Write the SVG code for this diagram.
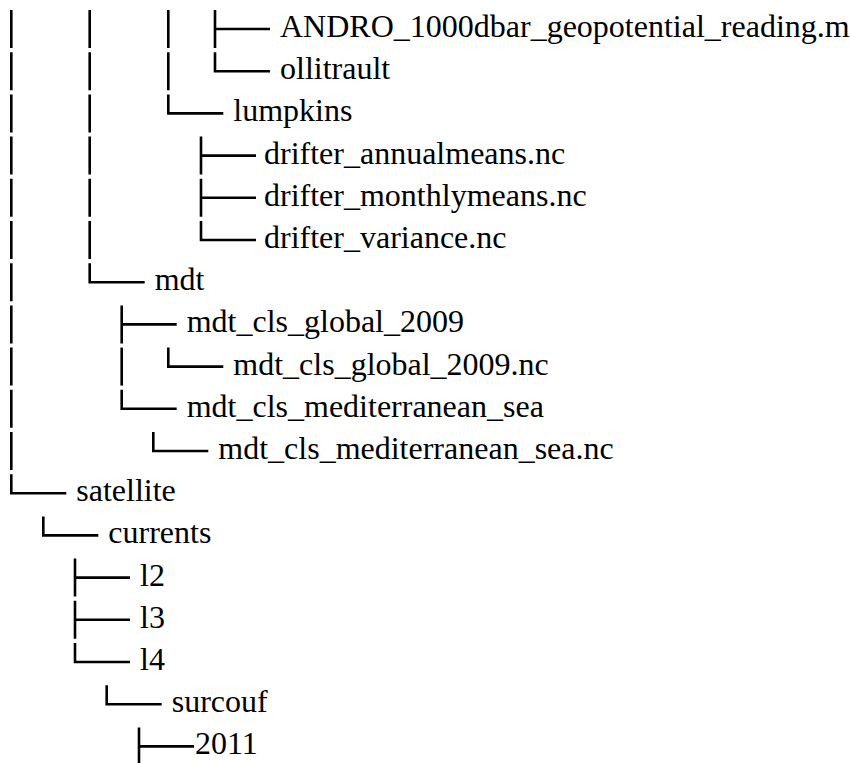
<svg xmlns="http://www.w3.org/2000/svg" width="850" height="763" viewBox="0 0 850 763">
<style>
text{font-family:'Liberation Serif','Times New Roman',Times,serif;font-size:32px;fill:#000}
.c{fill:none;stroke:#000;stroke-width:2.6}
</style>
<rect width="850" height="763" fill="#fff"/>
<g id="connectors" class="c">
<path d="M11.3 10V48M11.3 52.2V90.2M11.3 94.4V132.4M11.3 136.6V174.6M11.3 178.8V216.8M11.3 221V259M11.3 263.2V301.2M11.3 305.4V343.4M11.3 347.6V385.6M11.3 389.8V427.8M11.3 432V470"/>
<path d="M89.7 10V48M89.7 52.2V90.2M89.7 94.4V132.4M89.7 136.6V174.6M89.7 178.8V216.8M89.7 221V259"/>
<path d="M168.3 10V48M168.3 52.2V90.2"/>
<path d="M215 10V48M215 29H270"/>
<path d="M215 52.2V71.2H270"/>
<path d="M168.3 94.4V113.4H223.3"/>
<path d="M201 136.6V174.6M201 155.6H256"/>
<path d="M201 178.8V216.8M201 197.8H256"/>
<path d="M201 221V240H256"/>
<path d="M89.7 263.2V282.2H144.7"/>
<path d="M121.7 305.4V343.4M121.7 324.4H176.7"/>
<path d="M121.7 347.6V385.6"/>
<path d="M168.3 347.6V366.6H223.3"/>
<path d="M121.7 389.8V408.8H176.7"/>
<path d="M153.3 432V451H208.3"/>
<path d="M11.3 474.2V493.2H66.3"/>
<path d="M43.3 516.4V535.4H98.3"/>
<path d="M75 558.6V596.6M75 577.6H130"/>
<path d="M75 600.8V638.8M75 619.8H130"/>
<path d="M75 643V662H130"/>
<path d="M106.7 685.2V704.2H161.7"/>
<path d="M139 727.4V765.4M139 746.4H194"/>
</g>
<g id="n-andro"><text x="280" y="37">ANDRO_1000dbar_geopotential_reading.m</text></g>
<g id="n-ollitrault"><text x="280" y="79.2">ollitrault</text></g>
<g id="n-lumpkins"><text x="233.3" y="121.4">lumpkins</text></g>
<g id="n-drifter-annual"><text x="264" y="163.6">drifter_annualmeans.nc</text></g>
<g id="n-drifter-monthly"><text x="264" y="205.8">drifter_monthlymeans.nc</text></g>
<g id="n-drifter-variance"><text x="264" y="248">drifter_variance.nc</text></g>
<g id="n-mdt"><text x="154.7" y="290.2">mdt</text></g>
<g id="n-global"><text x="186.7" y="332.4">mdt_cls_global_2009</text></g>
<g id="n-global-nc"><text x="233.3" y="374.6">mdt_cls_global_2009.nc</text></g>
<g id="n-med"><text x="186.7" y="416.8">mdt_cls_mediterranean_sea</text></g>
<g id="n-med-nc"><text x="218.3" y="459">mdt_cls_mediterranean_sea.nc</text></g>
<g id="n-satellite"><text x="76.3" y="501.2">satellite</text></g>
<g id="n-currents"><text x="108.3" y="543.4">currents</text></g>
<g id="n-l2"><text x="140" y="585.6">l2</text></g>
<g id="n-l3"><text x="140" y="627.8">l3</text></g>
<g id="n-l4"><text x="140" y="670">l4</text></g>
<g id="n-surcouf"><text x="171.7" y="712.2">surcouf</text></g>
<g id="n-2011"><text x="195" y="754.4">2011</text></g>
</svg>
